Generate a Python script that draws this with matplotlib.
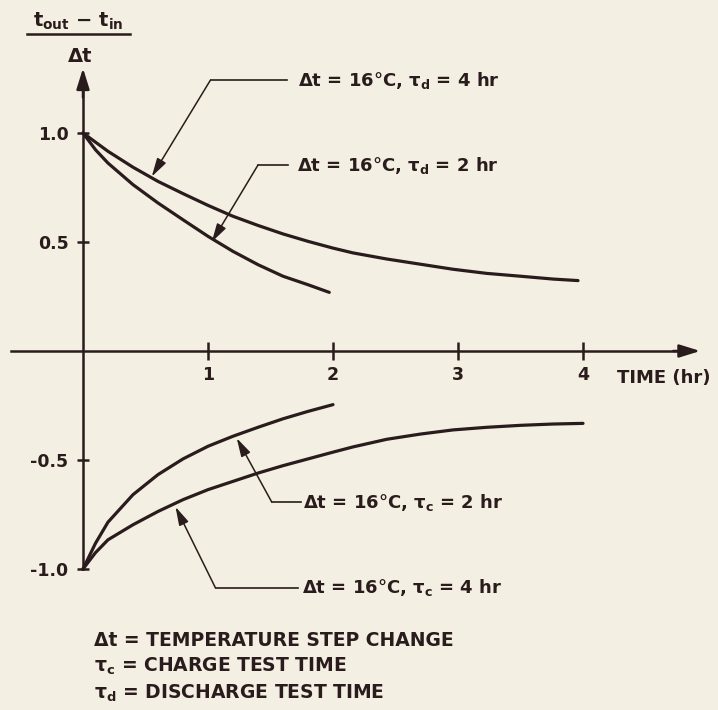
import numpy as np
import matplotlib.pyplot as plt

# curves (time in hr, (t_out - t_in)/dt)
time_d4 = [0, 0.2, 0.4, 0.6, 0.8, 1.0, 1.2, 1.4, 1.6, 1.8, 2.0, 2.16, 2.43, 2.70, 2.96, 3.23, 3.50, 3.76, 3.96]
ratio_d4 = [1.0, 0.916, 0.843, 0.778, 0.722, 0.668, 0.618, 0.576, 0.537, 0.503, 0.472, 0.450, 0.422,
            0.398, 0.375, 0.356, 0.343, 0.330, 0.323]
time_d2 = [0, 0.1, 0.2, 0.4, 0.6, 0.8, 1.0, 1.2, 1.4, 1.6, 1.8, 1.97]
ratio_d2 = [1.0, 0.923, 0.862, 0.763, 0.679, 0.602, 0.526, 0.457, 0.396, 0.343, 0.304, 0.269]
time_c2 = [0, 0.1, 0.2, 0.4, 0.6, 0.8, 1.0, 1.2, 1.4, 1.6, 1.8, 2.0]
ratio_c2 = [-1.0, -0.882, -0.785, -0.659, -0.567, -0.495, -0.437, -0.391, -0.350, -0.311, -0.277, -0.246]
time_c4 = [0, 0.1, 0.2, 0.4, 0.6, 0.8, 1.0, 1.2, 1.4, 1.6, 1.8, 2.0, 2.16, 2.43, 2.70, 2.96, 3.23,
           3.50, 3.76, 4.0]
ratio_c4 = [-1.0, -0.925, -0.866, -0.797, -0.736, -0.682, -0.636, -0.598, -0.560, -0.526, -0.495,
            -0.464, -0.440, -0.405, -0.381, -0.362, -0.350, -0.341, -0.335, -0.332]

xticks = [1, 2, 3, 4]
xtick_labels = ['1', '2', '3', '4']
yticks = [-1.0, -0.5, 0.5, 1.0]
ytick_labels = ['-1.0', '-0.5', '0.5', '1.0']

curve_labels = ['\u0394t = 16\u00b0C, \u03c4$_d$ = 4 hr',
                '\u0394t = 16\u00b0C, \u03c4$_d$ = 2 hr',
                '\u0394t = 16\u00b0C, \u03c4$_c$ = 2 hr',
                '\u0394t = 16\u00b0C, \u03c4$_c$ = 4 hr']
notes = ['\u0394t = TEMPERATURE STEP CHANGE',
         '\u03c4$_c$ = CHARGE TEST TIME',
         '\u03c4$_d$ = DISCHARGE TEST TIME']

paper = '#f3efe3'
ink = '#2a1c1c'

plt.rcParams['font.family'] = 'DejaVu Sans'
plt.rcParams['font.weight'] = 'bold'
plt.rcParams['mathtext.default'] = 'bf'

fig = plt.figure(figsize=(7.18, 7.10), dpi=100, facecolor=paper)
ax = fig.add_axes([0, 0, 1, 1], facecolor=paper)
ax.set_xlim(-83 / 125, (718 - 83) / 125)
ax.set_ylim((351 - 710) / 218, 351 / 218)

# axes through the origin
for s in ['top', 'right']:
    ax.spines[s].set_visible(False)
ax.spines['left'].set_position(('data', 0))
ax.spines['bottom'].set_position(('data', 0))
ax.spines['left'].set_bounds(-1.0, 1.2)
ax.spines['bottom'].set_bounds(-0.58, 4.8)
for s in ['left', 'bottom']:
    ax.spines[s].set_linewidth(1.8)
    ax.spines[s].set_color(ink)
arrow_kw = dict(arrowstyle='-|>,head_length=0.9,head_width=0.28', lw=1.8, color=ink, mutation_scale=14)
ax.annotate('', xy=(4.96, 0), xytext=(4.7, 0), arrowprops=arrow_kw)
ax.annotate('', xy=(0, 1.31), xytext=(0, 1.15), arrowprops=arrow_kw)

ax.set_xticks(xticks)
ax.set_xticklabels(xtick_labels)
ax.set_yticks(yticks)
ax.set_yticklabels(ytick_labels)
ax.tick_params(axis='x', direction='inout', length=13, width=1.8, color=ink, labelsize=12.5, pad=4, labelcolor=ink)
ax.tick_params(axis='y', direction='inout', length=9, width=1.8, color=ink, labelsize=12.5, pad=6, labelcolor=ink)
ax.text(4.27, -0.124, 'TIME (hr)', fontsize=13, color=ink, va='center', ha='left')

# the four curves
for tt, rr in [(time_d4, ratio_d4), (time_d2, ratio_d2), (time_c2, ratio_c2), (time_c4, ratio_c4)]:
    ax.plot(tt, rr, color=ink, lw=2.3, solid_capstyle='round', solid_joinstyle='round')

# leader lines: (tip on curve, bend, end of horizontal, text x)
leaders = [((0.55, 0.80), (1.02, 1.243), 1.63, 1.72),
           ((1.03, 0.50), (1.40, 0.853), 1.64, 1.71),
           ((1.23, -0.40), (1.51, -0.693), 1.74, 1.76),
           ((0.74, -0.715), (1.06, -1.087), 1.72, 1.75)]
lead_kw = dict(arrowstyle='-|>,head_length=0.8,head_width=0.22', lw=1.1, color=ink, mutation_scale=14,
               shrinkA=0, shrinkB=0)
for (tip, bend, hx, tx), lab in zip(leaders, curve_labels):
    ax.annotate('', xy=tip, xytext=bend, arrowprops=lead_kw)
    ax.plot([bend[0], hx], [bend[1], bend[1]], color=ink, lw=1.2)
    ax.text(tx, bend[1], lab, fontsize=13, color=ink, va='center', ha='left')

# y quantity written as a fraction
fig.text(78 / 718, 1 - 21 / 710, 't$_{out}$ \u2212 t$_{in}$', fontsize=14, color=ink, ha='center', va='center')
fig.add_artist(plt.Line2D([27 / 718, 130 / 718], [1 - 34 / 710, 1 - 34 / 710], color=ink, lw=1.8))
fig.text(80 / 718, 1 - 56 / 710, '\u0394t', fontsize=14, color=ink, ha='center', va='center')

for i, note in enumerate(notes):
    fig.text(94 / 718, 1 - (640 + 26.5 * i) / 710, note, fontsize=13.5, color=ink, ha='left', va='center')

fig.savefig('out.png', dpi=100, facecolor=paper)
